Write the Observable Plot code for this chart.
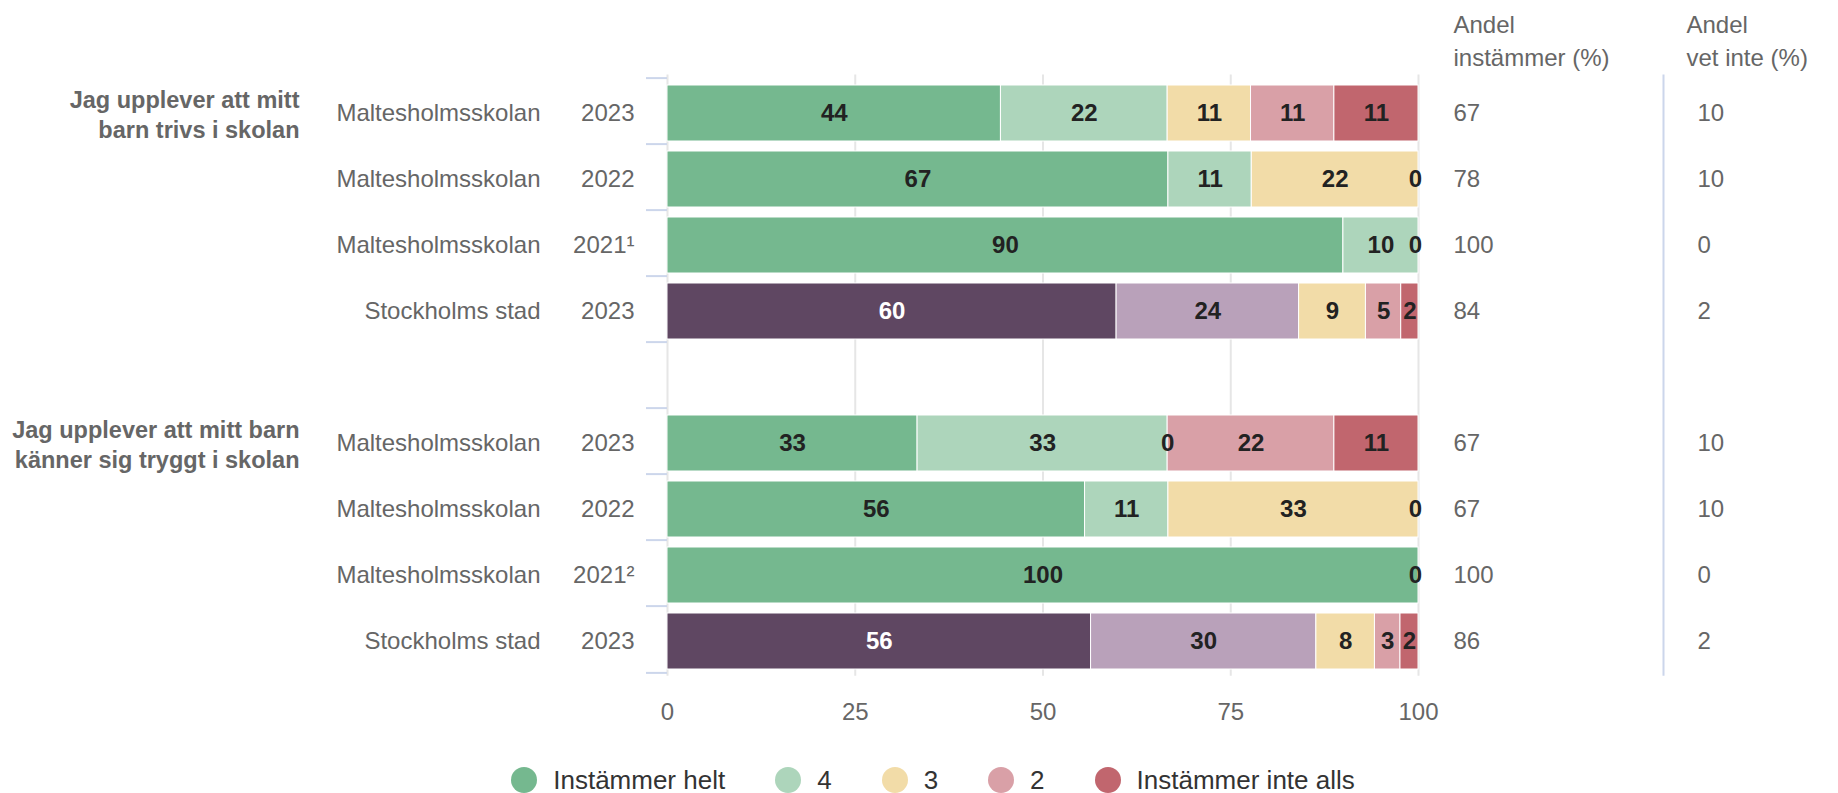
<!DOCTYPE html>
<html>
<head>
<meta charset="utf-8">
<script src="https://cdn.jsdelivr.net/npm/d3@7"></script>
<script src="https://cdn.jsdelivr.net/npm/@observablehq/plot@0.6"></script>
<style>
  html, body { margin: 0; padding: 0; background: #fff; overflow: hidden; }
  body { font-family: "Liberation Sans", Arial, Helvetica, sans-serif; }
  #legend { display: flex; justify-content: center; align-items: center; height: 76px; padding-left: 28px; gap: 50px; font-size: 26px; color: #333; }
  .item { display: flex; align-items: center; gap: 16px; }
  .dot { width: 26px; height: 26px; border-radius: 50%; display: inline-block; }
</style>
</head>
<body>
<div id="chart"></div>
<div id="legend"></div>
<script>
// ---------- data ----------
const questions = ["Jag upplever att mitt\nbarn trivs i skolan", "Jag upplever att mitt barn\nkänner sig tryggt i skolan"];
const units = ["Maltesholmsskolan", "Maltesholmsskolan", "Maltesholmsskolan", "Stockholms stad",
               "Maltesholmsskolan", "Maltesholmsskolan", "Maltesholmsskolan", "Stockholms stad"];
const years = ["2023", "2022", "2021¹", "2023", "2023", "2022", "2021²", "2023"];
const questionIndex = [0, 0, 0, 0, 1, 1, 1, 1];
const responses = ["Instämmer helt", "4", "3", "2", "Instämmer inte alls"];
const helt  = [44.4, 66.7, 90.0, 59.8, 33.3, 55.6, 100, 56.4];
const v4    = [22.2, 11.1, 10.0, 24.3, 33.3, 11.1, 0, 30.0];
const v3    = [11.1, 22.2, 0, 8.9, 0, 33.3, 0, 7.8];
const v2    = [11.1, 0, 0, 4.7, 22.2, 0, 0, 3.4];
const v1    = [11.2, 0, 0, 2.3, 11.2, 0, 0, 2.4];
const instammer = [67, 78, 100, 84, 67, 67, 100, 86];
const vetInte   = [10, 10, 0, 2, 10, 10, 0, 2];
const xTicks = [0, 25, 50, 75, 100];

const colors = {
  "Instämmer helt": "#75b88f",
  "4": "#add5bb",
  "3": "#f2dca8",
  "2": "#d9a0a7",
  "Instämmer inte alls": "#c1666e",
  "Instämmer helt (Stockholm)": "#5f4762",
  "4 (Stockholm)": "#b9a1ba"
};

// ---------- build tables ----------
const series = [helt, v4, v3, v2, v1];
const rowKeys = units.map((u, i) => `row${i}`);
const yDomain = [...rowKeys.slice(0, 4), "gap", ...rowKeys.slice(4)];
const rows = units.map((u, i) => ({
  key: rowKeys[i], unit: u, year: years[i],
  instammer: instammer[i], vetInte: vetInte[i]
}));
const groups = questions.map((q, k) => ({key: rowKeys[questionIndex.indexOf(k)], question: q}));
const segs = [];
units.forEach((u, i) => {
  const sthlm = u === "Stockholms stad";
  series.forEach((vals, j) => {
    const v = vals[i];
    const show = v > 0 || j === 0 || series[j - 1][i] !== 0;
    const atEnd = v === 0 && series.slice(j).every(s => s[i] === 0);
    const colorKey = sthlm && j < 2 ? `${responses[j]} (Stockholm)` : responses[j];
    segs.push({key: rowKeys[i], response: responses[j], value: v, label: Math.round(v),
               colorKey, show, atEnd, white: colorKey === "Instämmer helt (Stockholm)"});
  });
});

// ---------- layout ----------
const W = 1838, H = 742;
const mTop = 74.5, mBottom = H - 675.7, mLeft = 667, mRight = W - 1418;
const step = (H - mTop - mBottom) / yDomain.length;
const font = 24;
const tdy = 2;

const stackOpts = {x: "value", y: "key", z: "response"};
const labelBase = {text: "label", fontSize: font, fontWeight: "bold", dy: tdy};

const chart = Plot.plot({
  width: W, height: H,
  marginTop: mTop, marginBottom: mBottom, marginLeft: mLeft, marginRight: mRight,
  style: {fontFamily: '"Liberation Sans", Arial, Helvetica, sans-serif', color: "#666", background: "#fff"},
  x: {domain: [0, 100]},
  y: {domain: yDomain, padding: 0, axis: null},
  color: {domain: Object.keys(colors), range: Object.values(colors)},
  marks: [
    Plot.gridX(xTicks, {stroke: "#e6e6e6", strokeOpacity: 1, strokeWidth: 2}),
    Plot.ruleY(yDomain, {x1: 0, x2: 0, insetLeft: -21, dy: -step / 2, stroke: "#ccd6eb", strokeWidth: 2}),
    Plot.ruleY(yDomain.slice(-1), {x1: 0, x2: 0, insetLeft: -21, dy: step / 2, stroke: "#ccd6eb", strokeWidth: 2}),
    Plot.ruleX([100], {dx: 245, stroke: "#ccd6eb", strokeWidth: 2}),
    Plot.barX(segs, Plot.stackX({...stackOpts, fill: "colorKey", stroke: "white", strokeWidth: 1, insetTop: 7, insetBottom: 3})),
    Plot.text(segs, Plot.filter(d => d.show && !d.white && !d.atEnd, Plot.stackX({...stackOpts, ...labelBase, fill: "#222"}))),
    Plot.text(segs, Plot.filter(d => d.show && !d.white && d.atEnd, Plot.stackX({...stackOpts, ...labelBase, fill: "#222", dx: -3}))),
    Plot.text(segs, Plot.filter(d => d.show && d.white, Plot.stackX({...stackOpts, ...labelBase, fill: "white"}))),
    Plot.axisX(xTicks, {tickSize: 0, tickPadding: 27, fontSize: font, fill: "#666", label: null}),
    // left category labels
    Plot.text(rows, {y: "key", text: "unit", frameAnchor: "left", dx: -127, dy: tdy, textAnchor: "end", fontSize: font, fill: "#666"}),
    Plot.text(rows, {y: "key", text: "year", frameAnchor: "left", dx: -33, dy: tdy, textAnchor: "end", fontSize: font, fill: "#666"}),
    Plot.text(groups, {y: "key", text: "question", frameAnchor: "left", dx: -368, dy: tdy, textAnchor: "end", fontSize: 23.5, fontWeight: "bold", lineHeight: 1.28, fill: "#666"}),
    // right columns
    Plot.text(rows, {y: "key", text: "instammer", frameAnchor: "right", dx: 35, dy: tdy, textAnchor: "start", fontSize: font, fill: "#666"}),
    Plot.text(rows, {y: "key", text: "vetInte", frameAnchor: "right", dx: 279, dy: tdy, textAnchor: "start", fontSize: font, fill: "#666"}),
    Plot.text(["Andel\ninstämmer (%)"], {text: d => d, frameAnchor: "top-right", dx: 35, dy: -36, textAnchor: "start", lineAnchor: "middle", lineHeight: 1.36, fontSize: font, fill: "#666"}),
    Plot.text(["Andel\nvet inte (%)"], {text: d => d, frameAnchor: "top-right", dx: 268, dy: -36, textAnchor: "start", lineAnchor: "middle", lineHeight: 1.36, fontSize: font, fill: "#666"})
  ]
});
document.getElementById("chart").appendChild(chart);

// ---------- legend ----------
const legend = document.getElementById("legend");
responses.forEach(r => {
  const item = document.createElement("div");
  item.className = "item";
  const dot = document.createElement("span");
  dot.className = "dot";
  dot.style.background = colors[r];
  const label = document.createElement("span");
  label.textContent = r;
  item.appendChild(dot);
  item.appendChild(label);
  legend.appendChild(item);
});
</script>
</body>
</html>
